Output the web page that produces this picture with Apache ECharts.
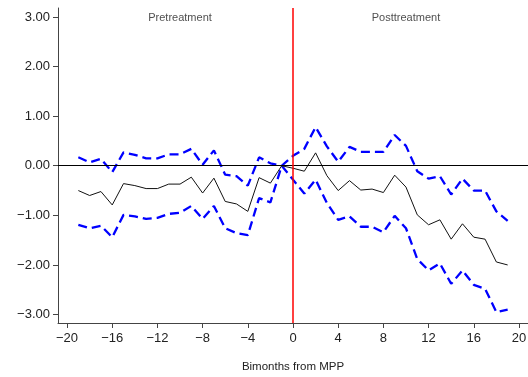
<!DOCTYPE html>
<html><head><meta charset="utf-8">
<script src="https://cdn.jsdelivr.net/npm/echarts@6/dist/echarts.min.js"></script>
<style>html,body{margin:0;padding:0;background:#fff}#c{width:528px;height:377px}</style>
</head><body><div id="c"></div>
<script>
var periods = [-19,-18,-17,-16,-15,-14,-13,-12,-11,-10,-9,-8,-7,-6,-5,-4,-3,-2,-1,0,1,2,3,4,5,6,7,8,9,10,11,12,13,14,15,16,17,18,19];
var estimate = [-0.50,-0.60,-0.52,-0.79,-0.36,-0.40,-0.46,-0.46,-0.37,-0.37,-0.23,-0.55,-0.25,-0.72,-0.77,-0.92,-0.24,-0.35,0.00,
  -0.05,-0.11,0.26,-0.20,-0.50,-0.30,-0.49,-0.47,-0.54,-0.19,-0.43,-0.99,-1.19,-1.09,-1.48,-1.17,-1.44,-1.48,-1.94,-2.00];
var upper = [0.17,0.07,0.14,-0.13,0.27,0.22,0.15,0.15,0.23,0.23,0.34,0.02,0.31,-0.18,-0.21,-0.40,0.17,0.05,0.00,
  0.20,0.34,0.78,0.39,0.08,0.38,0.28,0.28,0.28,0.62,0.40,-0.11,-0.26,-0.21,-0.58,-0.26,-0.50,-0.50,-0.92,-1.11];
var lower = [-1.19,-1.26,-1.21,-1.44,-0.99,-1.02,-1.07,-1.05,-0.97,-0.95,-0.81,-1.07,-0.81,-1.26,-1.36,-1.40,-0.65,-0.74,0.00,
  -0.28,-0.56,-0.28,-0.75,-1.09,-1.02,-1.23,-1.23,-1.34,-1.01,-1.26,-1.88,-2.11,-1.97,-2.38,-2.11,-2.40,-2.48,-2.95,-2.90];
var xTicks = [-20,-16,-12,-8,-4,0,4,8,12,16,20];
var yTicks = [-3,-2,-1,0,1,2,3];
var panelLabels = [{x:-10, y:2.97, text:'Pretreatment'},{x:10, y:2.97, text:'Posttreatment'}];

function pairs(ys){ return periods.map(function(t,i){ return [t, ys[i]]; }); }
function fmt(v){ var s = Math.abs(v).toFixed(2); return (v < 0 ? '\u2212' : '') + s; }

var chart = echarts.init(document.getElementById('c'), null, {renderer:'canvas'});
var axisColor = '#444';
var font = 'Liberation Sans, Arial, sans-serif';
chart.setOption({
  animation:false,
  grid:{left:58, right:0, top:8, bottom:54, containLabel:false, outerBoundsMode:'none'},
  xAxis:{type:'value', min:-20.8, max:20.8,
    name:'Bimonths from MPP', nameLocation:'middle', nameGap:38,
    nameTextStyle:{color:'#222', fontSize:11.5, fontFamily:font},
    axisLine:{onZero:false, lineStyle:{color:axisColor, width:1}},
    axisTick:{show:true, length:5, customValues:xTicks, lineStyle:{color:axisColor}},
    axisLabel:{customValues:xTicks, color:'#222', fontSize:13, fontFamily:font, margin:9,
      formatter:function(v){ return (v<0?'\u2212':'') + Math.abs(v); }},
    splitLine:{show:false}},
  yAxis:{type:'value', min:-3.17, max:3.18,
    axisLine:{show:true, onZero:false, lineStyle:{color:axisColor, width:1}},
    axisTick:{show:true, length:5, customValues:yTicks, lineStyle:{color:axisColor}},
    axisLabel:{customValues:yTicks, color:'#222', fontSize:13, fontFamily:font, margin:8, formatter:fmt},
    splitLine:{show:false}},
  series:[
    {type:'line', data:[], symbol:'none', z:1,
      markLine:{silent:true, symbol:['none','none'], label:{show:false},
        lineStyle:{color:'#000000', width:1.2, type:'solid'},
        data:[{yAxis:0}]}},
    {type:'line', data:[], symbol:'none', z:5,
      markLine:{silent:true, symbol:['none','none'], label:{show:false},
        lineStyle:{color:'#ff0000', width:1.5, type:'solid', opacity:1},
        data:[{xAxis:0}]}},
    {type:'line', data:pairs(upper), symbol:'none', lineStyle:{color:'#0000ff', width:2.3, type:[9,5]}, z:3},
    {type:'line', data:pairs(lower), symbol:'none', lineStyle:{color:'#0000ff', width:2.3, type:[9,5]}, z:3},
    {type:'line', data:pairs(estimate), symbol:'none', lineStyle:{color:'#111', width:1}, z:4},
    {type:'scatter', symbolSize:0, data:panelLabels.map(function(p){ return {value:[p.x,p.y], name:p.text}; }),
      label:{show:true, position:'inside', formatter:function(p){ return p.name; }, color:'#222', fontSize:11, fontFamily:font}}
  ]
});
</script></body></html>
